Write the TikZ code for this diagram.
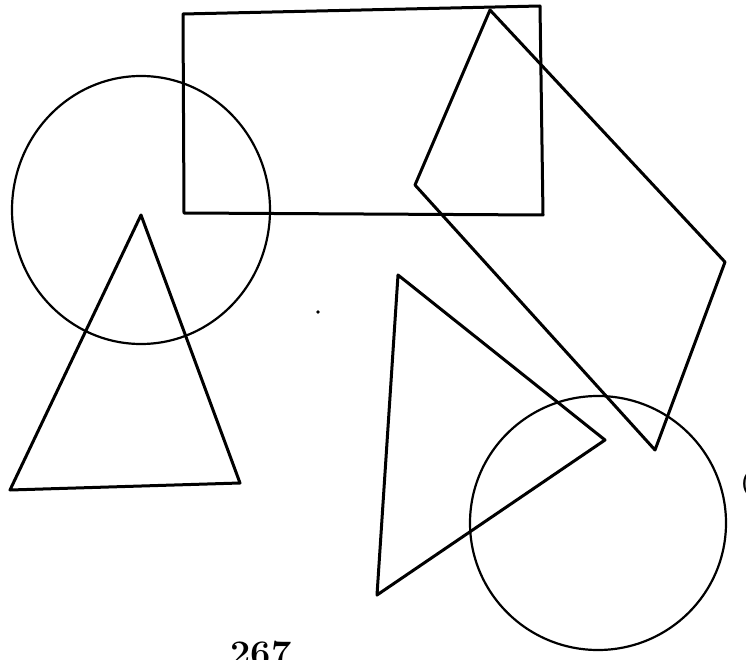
\documentclass[tikz,border=0pt]{standalone}
\begin{document}
\begin{tikzpicture}[x=1pt,y=-1pt,
  shape line/.style={line width=3pt,line join=round,line cap=round},
  thin line/.style={line width=2.2pt}]
\useasboundingbox (0,0) rectangle (746,660);
\begin{scope}
\clip (0,0) rectangle (746,660);
% rectangle
\coordinate (r1) at (183,14);
\coordinate (r2) at (540,6);
\coordinate (r3) at (543,215);
\coordinate (r4) at (184,213);
\draw[shape line] (r1) -- (r2) -- (r3) -- (r4) -- cycle;
% quadrilateral
\coordinate (q1) at (490,10);
\coordinate (q2) at (725,262);
\coordinate (q3) at (655,450);
\coordinate (q4) at (415,185);
\draw[shape line] (q1) -- (q2) -- (q3) -- (q4) -- cycle;
% left circle
\draw[thin line] (141,210) ellipse [x radius=129, y radius=134];
% left triangle
\coordinate (t1) at (141,215);
\coordinate (t2) at (10,490);
\coordinate (t3) at (240,483);
\draw[shape line] (t1) -- (t2) -- (t3) -- cycle;
% middle triangle
\coordinate (m1) at (398,275);
\coordinate (m2) at (605,440);
\coordinate (m3) at (377,595);
\draw[shape line] (m1) -- (m2) -- (m3) -- cycle;
% bottom right circle
\draw[thin line] (598,523) ellipse [x radius=128, y radius=127];
% dot
\fill (318,312) circle (1.8);
% edge mark
\node[font=\fontsize{26}{26}\selectfont\bfseries,anchor=center] (paren) at (746,484) {(};
% page number
\node[font=\fontsize{36}{36}\selectfont\bfseries,anchor=base] (num) at (261,665) {267};
\end{scope}
\end{tikzpicture}
\end{document}
